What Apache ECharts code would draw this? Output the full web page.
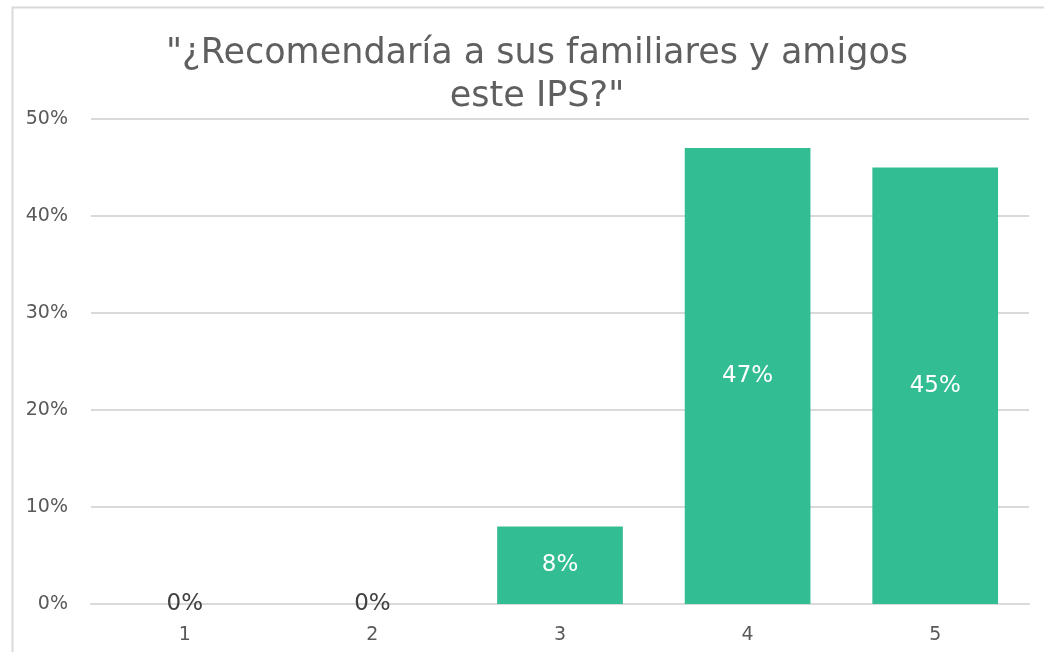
<!DOCTYPE html>
<html>
<head>
<meta charset="utf-8">
<script src="https://cdn.jsdelivr.net/npm/echarts@6/dist/echarts.min.js"></script>
<style>
  html, body { margin: 0; padding: 0; background: #ffffff; }
  #chart { width: 1044px; height: 652px; }
</style>
</head>
<body>
<div id="chart"></div>
<script>
// Survey answers: share of respondents for each score
const categories = ['1', '2', '3', '4', '5'];
const shares = [0, 0, 8, 47, 45];
const yTicks = { min: 0, max: 50, interval: 10 };
const titleText = '"¿Recomendaría a sus familiares y amigos\neste IPS?"';

const FONT = '"DejaVu Sans", "Noto Sans", sans-serif';
const GRAY = '#595959';
const BAR = '#33BD92';

const chart = echarts.init(document.getElementById('chart'), null, { renderer: 'canvas' });

chart.setOption({
  animation: false,
  backgroundColor: '#ffffff',
  graphic: [{
    type: 'rect',
    left: 10, top: 5,
    shape: { width: 1100, height: 700 },
    style: { fill: 'none', stroke: '#D9D9D9', lineWidth: 2 },
    silent: true
  }],
  title: {
    text: titleText,
    left: 532, top: 27,
    textAlign: 'center',
    textStyle: { fontFamily: FONT, fontWeight: 'normal', fontSize: 35, color: '#5f5f5f', lineHeight: 43 }
  },
  grid: { left: 91, right: 15, top: 119, bottom: 48, containLabel: false },
  xAxis: {
    type: 'category',
    data: categories,
    axisLine: { show: true, lineStyle: { color: '#D9D9D9', width: 2 } },
    axisTick: { show: false },
    axisLabel: { fontFamily: FONT, fontSize: 19, color: GRAY, margin: 22 }
  },
  yAxis: {
    type: 'value',
    min: yTicks.min, max: yTicks.max, interval: yTicks.interval,
    axisLine: { show: false },
    axisTick: { show: false },
    splitLine: { lineStyle: { color: '#D9D9D9', width: 2 } },
    axisLabel: { fontFamily: FONT, fontSize: 19, color: GRAY, margin: 23, formatter: v => v + '%' }
  },
  series: [{
    type: 'bar',
    data: shares.map(v => ({
      value: v,
      label: { color: v === 0 ? '#404040' : '#ffffff' }
    })),
    barCategoryGap: '33%',
    itemStyle: { color: BAR },
    label: {
      show: true,
      position: 'inside',
      fontFamily: FONT,
      fontSize: 23,
      formatter: p => Math.round(p.value) + '%'
    }
  }]
});
</script>
</body>
</html>
